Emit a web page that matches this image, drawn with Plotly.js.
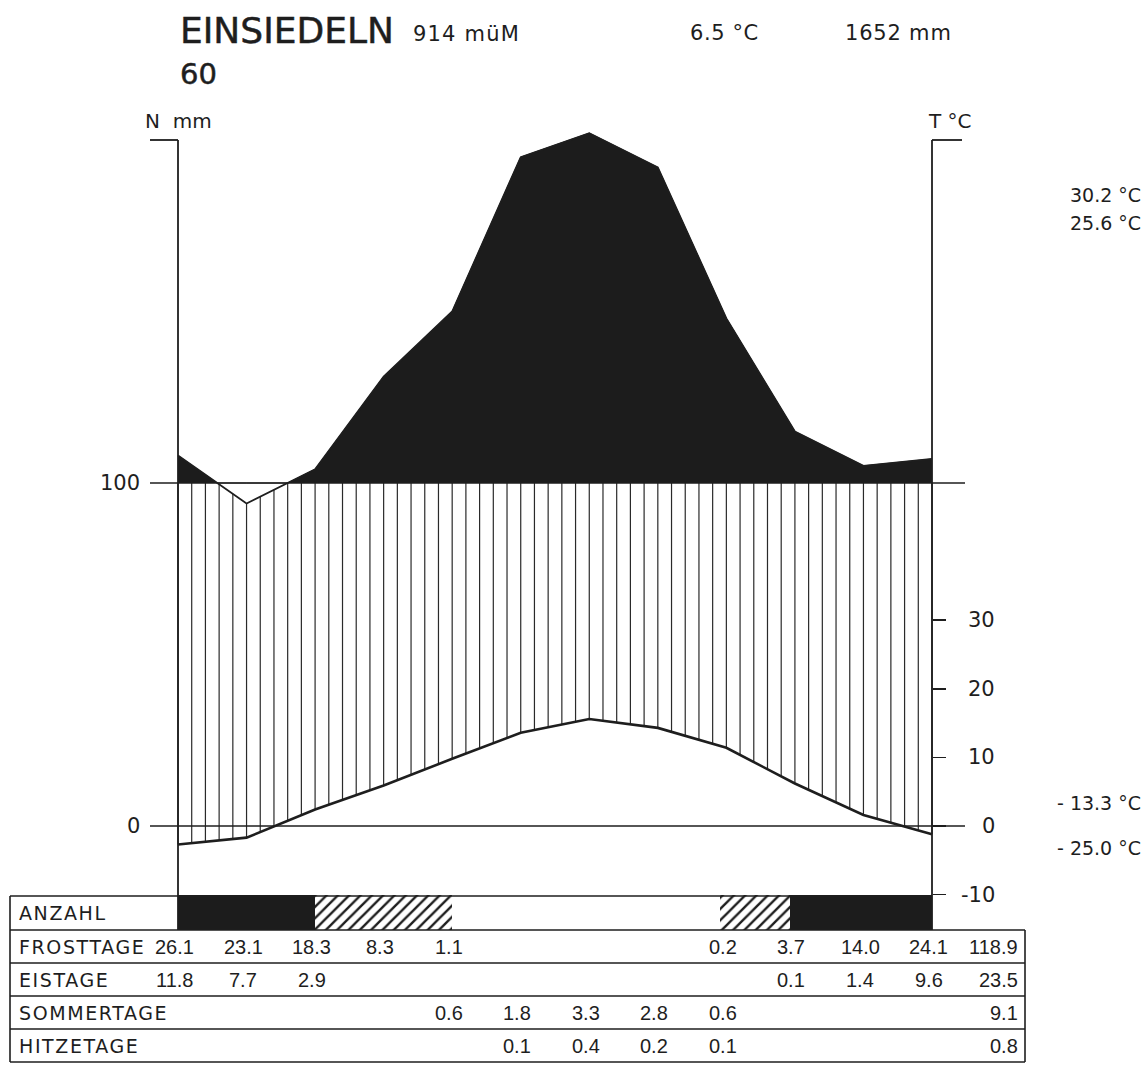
<!DOCTYPE html>
<html>
<head>
<meta charset="utf-8">
<script src="https://cdn.plot.ly/plotly-3.0.1.min.js"></script>
<style>
  html, body { margin: 0; padding: 0; background: #ffffff; }
  #chart { width: 1146px; height: 1066px; }
</style>
</head>
<body>
<div id="chart"></div>
<script>
// ---------------- DATA ----------------
const station = 'EINSIEDELN';
const altitude = '914 müM';
const years = '60';
const annualTemp = '6.5 °C';
const annualPrecip = '1652 mm';
const monthIndex = [0, 1, 2, 3, 4, 5, 6, 7, 8, 9, 10, 11];
// monthly precipitation (mm), Jan..Dec
const precip = [108, 94, 104, 131, 150, 195, 202, 192, 148, 115, 105, 107];
// monthly mean temperature (°C), Jan..Dec
const temp = [-2.7, -1.7, 2.4, 5.9, 9.8, 13.6, 15.6, 14.3, 11.4, 6.2, 1.6, -1.2];
// extremes shown at right
const upperExtremes = ['30.2 °C', '25.6 °C'];
const lowerExtremes = ['- 13.3 °C', '- 25.0 °C'];
// frost band (in month units): solid = regular frost, hatch = occasional frost
const solidBandStart = [0, 8.93];
const solidBandEnd = [2, 11];
const hatchBandStart = [2, 7.9];
const hatchBandEnd = [4, 8.93];
// tick labels
const tempTicks = [-10, 0, 10, 20, 30];
const precipTicks = [0, 100];
// table rows
const rowLabels = ['ANZAHL', 'FROSTTAGE', 'EISTAGE', 'SOMMERTAGE', 'HITZETAGE'];
const frostDays = [26.1, 23.1, 18.3, 8.3, 1.1, null, null, null, 0.2, 3.7, 14.0, 24.1];
const iceDays = [11.8, 7.7, 2.9, null, null, null, null, null, null, 0.1, 1.4, 9.6];
const summerDays = [null, null, null, null, 0.6, 1.8, 3.3, 2.8, 0.6, null, null, null];
const hotDays = [null, null, null, null, null, 0.1, 0.4, 0.2, 0.1, null, null, null];
const rowTotals = [118.9, 23.5, 9.1, 0.8];

// ---------------- GEOMETRY ----------------
const W = 1146, H = 1066;
const X0 = 178, X11 = 932;             // pixel of first / last month
const pxM = (X11 - X0) / 11;           // px per month
const Y0 = 826, Y100 = 483;            // pixel of 0 mm and 100 mm
const pxMm = (Y0 - Y100) / 100;        // px per mm
const mx = px => (px - X0) / pxM;      // pixel -> month units
const mm = py => (Y0 - py) / pxMm;     // pixel -> mm
const degC = py => mm(py) / 2;         // pixel -> °C
const pX = px => px / W, pY = py => 1 - py / H;

const ink = '#1e1e1e';
const FONT = 'DejaVu Sans, Liberation Sans, sans-serif';
const NUMFONT = 'Liberation Sans, Arial, sans-serif';

function interp(arr, x) {
  const i = Math.min(Math.floor(x), arr.length - 2);
  const t = x - i;
  return arr[i] + (arr[i + 1] - arr[i]) * t;
}

// black area above 100 mm
const upX = [], upY = [];
for (let i = 0; i < precip.length; i++) {
  if (i > 0 && (precip[i - 1] - 100) * (precip[i] - 100) < 0) {
    const t = (100 - precip[i - 1]) / (precip[i] - precip[i - 1]);
    upX.push(i - 1 + t); upY.push(100);
  }
  upX.push(i); upY.push(Math.max(precip[i], 100));
}
const baseY = upX.map(() => 100);

// vertical hatching between temperature and precipitation (humid period)
const hX = [], hY = [];
const nHatch = 55;
for (let k = 0; k <= nHatch; k++) {
  const x = k * 11 / nHatch;
  const lo = 2 * interp(temp, x);
  const hi = Math.min(interp(precip, x), 100);
  if (hi > lo) { hX.push(x, x, null); hY.push(lo, hi, null); }
}

const rowTop = [896, 930, 963, 996, 1029, 1062];
const bandBottom = degC(rowTop[1]);

const traces = [
  { x: upX, y: baseY, mode: 'lines', line: { width: 0, color: ink }, yaxis: 'y', hoverinfo: 'skip', showlegend: false },
  { x: upX, y: upY, mode: 'lines', fill: 'tonexty', fillcolor: '#1c1c1c', line: { width: 1, color: '#1c1c1c' }, yaxis: 'y', hoverinfo: 'skip', showlegend: false },
  { x: hX, y: hY, mode: 'lines', line: { width: 1.2, color: '#2a2a2a' }, yaxis: 'y', hoverinfo: 'skip', showlegend: false, connectgaps: false },
  { x: monthIndex, y: precip, mode: 'lines', line: { width: 1.8, color: ink }, yaxis: 'y', hoverinfo: 'skip', showlegend: false },
  { x: monthIndex, y: temp, mode: 'lines', line: { width: 2.6, color: ink }, yaxis: 'y2', hoverinfo: 'skip', showlegend: false },
  { type: 'bar', x: solidBandStart.map((s, i) => (s + solidBandEnd[i]) / 2), width: solidBandStart.map((s, i) => solidBandEnd[i] - s),
    base: solidBandStart.map(() => bandBottom), y: solidBandStart.map(() => -10 - bandBottom),
    marker: { color: '#1c1c1c', line: { width: 0 } }, yaxis: 'y2', hoverinfo: 'skip', showlegend: false },
  { type: 'bar', x: hatchBandStart.map((s, i) => (s + hatchBandEnd[i]) / 2), width: hatchBandStart.map((s, i) => hatchBandEnd[i] - s),
    base: hatchBandStart.map(() => bandBottom), y: hatchBandStart.map(() => -10 - bandBottom),
    marker: { color: '#ffffff', line: { width: 0 }, pattern: { shape: '/', fgcolor: ink, bgcolor: '#ffffff', size: 8, solidity: 0.3 } },
    yaxis: 'y2', hoverinfo: 'skip', showlegend: false }
];

// ---------------- SHAPES ----------------
const shapes = [];
const ln = (x0, y0, x1, y1, w, xref, yref) => shapes.push({ type: 'line', x0, y0, x1, y1, xref: xref || 'x', yref: yref || 'y', line: { color: ink, width: w || 1.6 }, layer: 'above' });
// horizontal 100 mm and 0 lines
ln(mx(150), 100, mx(965), 100, 1.6);
ln(mx(150), 0, mx(965), 0, 1.6);
// axes with brackets at 200 mm
ln(0, 200, 0, mm(rowTop[1]), 1.8);
ln(11, 200, 11, mm(rowTop[1]), 1.8);
ln(mx(150), 200, 0, 200, 1.8);
ln(11, 200, mx(962), 200, 1.8);
// table
ln(pX(10), pY(rowTop[0]), pX(X11), pY(rowTop[0]), 1.6, 'paper', 'paper');
for (let r = 1; r < rowTop.length; r++) ln(pX(10), pY(rowTop[r]), pX(1025), pY(rowTop[r]), 1.6, 'paper', 'paper');
ln(pX(10), pY(rowTop[0]), pX(10), pY(rowTop[5]), 1.6, 'paper', 'paper');
ln(pX(1025), pY(rowTop[1]), pX(1025), pY(rowTop[5]), 1.6, 'paper', 'paper');

// ---------------- ANNOTATIONS ----------------
const ann = [];
const txt = (text, x, y, size, anchor, family, xref, yref) => ann.push({
  text, x, y, xref: xref || 'paper', yref: yref || 'paper', showarrow: false,
  xanchor: anchor || 'left', yanchor: 'middle', font: { family: family || FONT, size, color: ink }
});
const heavy = s => '<span style="stroke:#1e1e1e;stroke-width:0.5px">' + s + '</span>';
const spaced = (s, ls) => '<span style="letter-spacing:' + ls + 'px">' + s + '</span>';
txt(heavy(station), pX(178), pY(30), 36);
txt(spaced(altitude, 1.2), pX(411), pY(34), 21);
txt(spaced(annualTemp, 0.6), pX(688), pY(33), 21);
txt(spaced(annualPrecip, 0.8), pX(843), pY(33), 21);
txt(heavy(years), pX(178), pY(74), 29);
txt('N  mm', pX(143), pY(121), 20);
txt('T °C', pX(926), pY(121), 20);
txt(upperExtremes[0], pX(1143), pY(195), 19, 'right');
txt(upperExtremes[1], pX(1143), pY(223), 19, 'right');
txt(lowerExtremes[0], pX(1143), pY(803), 19, 'right');
txt(lowerExtremes[1], pX(1143), pY(848), 19, 'right');
// left tick labels (mm)
precipTicks.forEach(v => txt(String(v), pX(142), v, 21, 'right', FONT, 'paper', 'y'));
// right tick labels (°C)
tempTicks.forEach(v => txt(String(v), pX(997), v, 21, 'right', FONT, 'paper', 'y2'));
// table row labels
rowLabels.forEach((lab, r) => txt(spaced(lab, 1.6), pX(17), pY((rowTop[r] + rowTop[r + 1]) / 2), 19));
// table values
const rows = [frostDays, iceDays, summerDays, hotDays];
rows.forEach((row, r) => {
  const yc = pY((rowTop[r + 1] + rowTop[r + 2]) / 2);
  row.forEach((v, i) => {
    if (v !== null) ann.push({ text: v.toFixed(1), x: i - 0.05, y: yc, xref: 'x', yref: 'paper', showarrow: false,
      xanchor: 'center', yanchor: 'middle', font: { family: NUMFONT, size: 20, color: ink } });
  });
  txt(rowTotals[r].toFixed(1), pX(1020), yc, 20, 'right', NUMFONT);
});

const layout = {
  width: W, height: H,
  margin: { l: 0, r: 0, t: 0, b: 0, pad: 0 },
  paper_bgcolor: '#ffffff', plot_bgcolor: '#ffffff',
  showlegend: false, hovermode: false,
  xaxis: { range: [mx(0), mx(W)], visible: false, fixedrange: true },
  yaxis: { range: [mm(H), mm(0)], visible: false, fixedrange: true },
  yaxis2: { range: [degC(H), degC(0)], overlaying: 'y', anchor: 'free', position: X11 / W, side: 'right',
    showgrid: false, zeroline: false, showline: false, showticklabels: false,
    ticks: 'outside', ticklen: 13, tickwidth: 1.6, tickcolor: ink, tickvals: tempTicks, fixedrange: true },
  bargap: 0,
  shapes, annotations: ann
};

Plotly.newPlot('chart', traces, layout, { staticPlot: true, displayModeBar: false });
</script>
</body>
</html>
